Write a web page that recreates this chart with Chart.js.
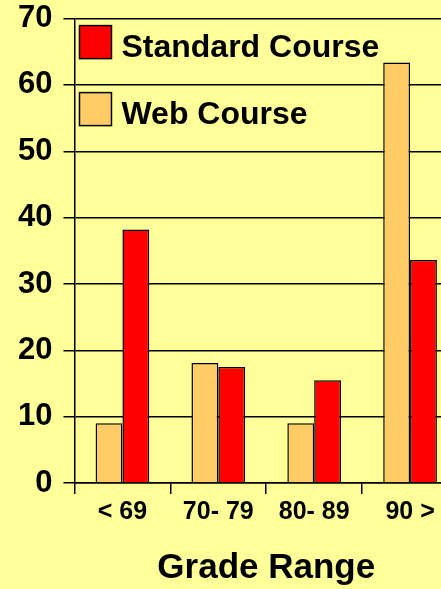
<!DOCTYPE html>
<html>
<head>
<meta charset="utf-8">
<script src="https://cdn.jsdelivr.net/npm/chart.js"></script>
<style>
  html, body { margin: 0; padding: 0; background: #FFFF99; overflow: hidden; }
  #wrap { width: 441px; height: 589px; overflow: hidden; }
  #gradeChart { display: block; margin-top: -11px; }
</style>
</head>
<body>
<div id="wrap"><canvas id="gradeChart" width="460" height="600"></canvas></div>
<script>
// Data
const categories = ["< 69", "70- 79", "80- 89", "90 >"];
const webCourse = [9, 18.1, 9, 63.4];
const standardCourse = [38.2, 17.5, 15.5, 33.6];
const yTicks = [0, 10, 20, 30, 40, 50, 60, 70];

const FONT = "'Liberation Sans', Arial, sans-serif";

// Legend drawn inside the plot, top-left (Standard first, then Web)
const insideLegend = {
  id: "insideLegend",
  afterDraw(chart) {
    const ctx = chart.ctx;
    const area = chart.chartArea;
    const items = [chart.data.datasets[1], chart.data.datasets[0]];
    ctx.save();
    items.forEach((ds, i) => {
      const x = area.left + 5;
      const y = area.top + 7 + i * 67;
      ctx.fillStyle = ds.backgroundColor;
      ctx.fillRect(x, y, 32, 33);
      ctx.lineWidth = 1.5;
      ctx.strokeStyle = "#000";
      ctx.strokeRect(x, y, 32, 33);
      ctx.fillStyle = "#000";
      ctx.font = "bold 32px " + FONT;
      ctx.textBaseline = "alphabetic";
      ctx.fillText(ds.label, x + 42, y + 31);
    });
    ctx.restore();
  }
};

new Chart(document.getElementById("gradeChart"), {
  type: "bar",
  data: {
    labels: categories,
    datasets: [
      {
        label: "Web Course",
        data: webCourse,
        backgroundColor: "#FFCC66",
        borderColor: "#000",
        borderWidth: 1.5,
        categoryPercentage: 0.56,
        barPercentage: 1
      },
      {
        label: "Standard Course",
        data: standardCourse,
        backgroundColor: "#FF0000",
        borderColor: "#000",
        borderWidth: 1.5,
        categoryPercentage: 0.56,
        barPercentage: 1
      }
    ]
  },
  options: {
    responsive: false,
    animation: false,
    layout: { padding: { left: 7, right: 2, top: 0, bottom: 0 } },
    plugins: {
      legend: { display: false },
      tooltip: { enabled: false }
    },
    scales: {
      x: {
        offset: true,
        grid: {
          offset: true,
          drawOnChartArea: false,
          drawTicks: true,
          tickLength: 11,
          color: "#000",
          lineWidth: 1.5
        },
        border: { color: "#000", width: 1.5 },
        ticks: {
          color: "#000",
          padding: 3,
          font: { family: FONT, size: 25, weight: "bold" }
        },
        title: {
          display: true,
          text: "Grade Range",
          color: "#000",
          padding: { top: 17, bottom: 0 },
          font: { family: FONT, size: 35, weight: "bold" }
        }
      },
      y: {
        min: 0,
        max: 70,
        afterBuildTicks(axis) {
          axis.ticks = yTicks.map(v => ({ value: v }));
        },
        grid: {
          color: "#000",
          lineWidth: 1.5,
          tickLength: 11
        },
        border: { color: "#000", width: 1.5 },
        ticks: {
          color: "#000",
          padding: 11,
          font: { family: FONT, size: 31, weight: "bold" }
        }
      }
    }
  },
  plugins: [insideLegend]
});
</script>
</body>
</html>
